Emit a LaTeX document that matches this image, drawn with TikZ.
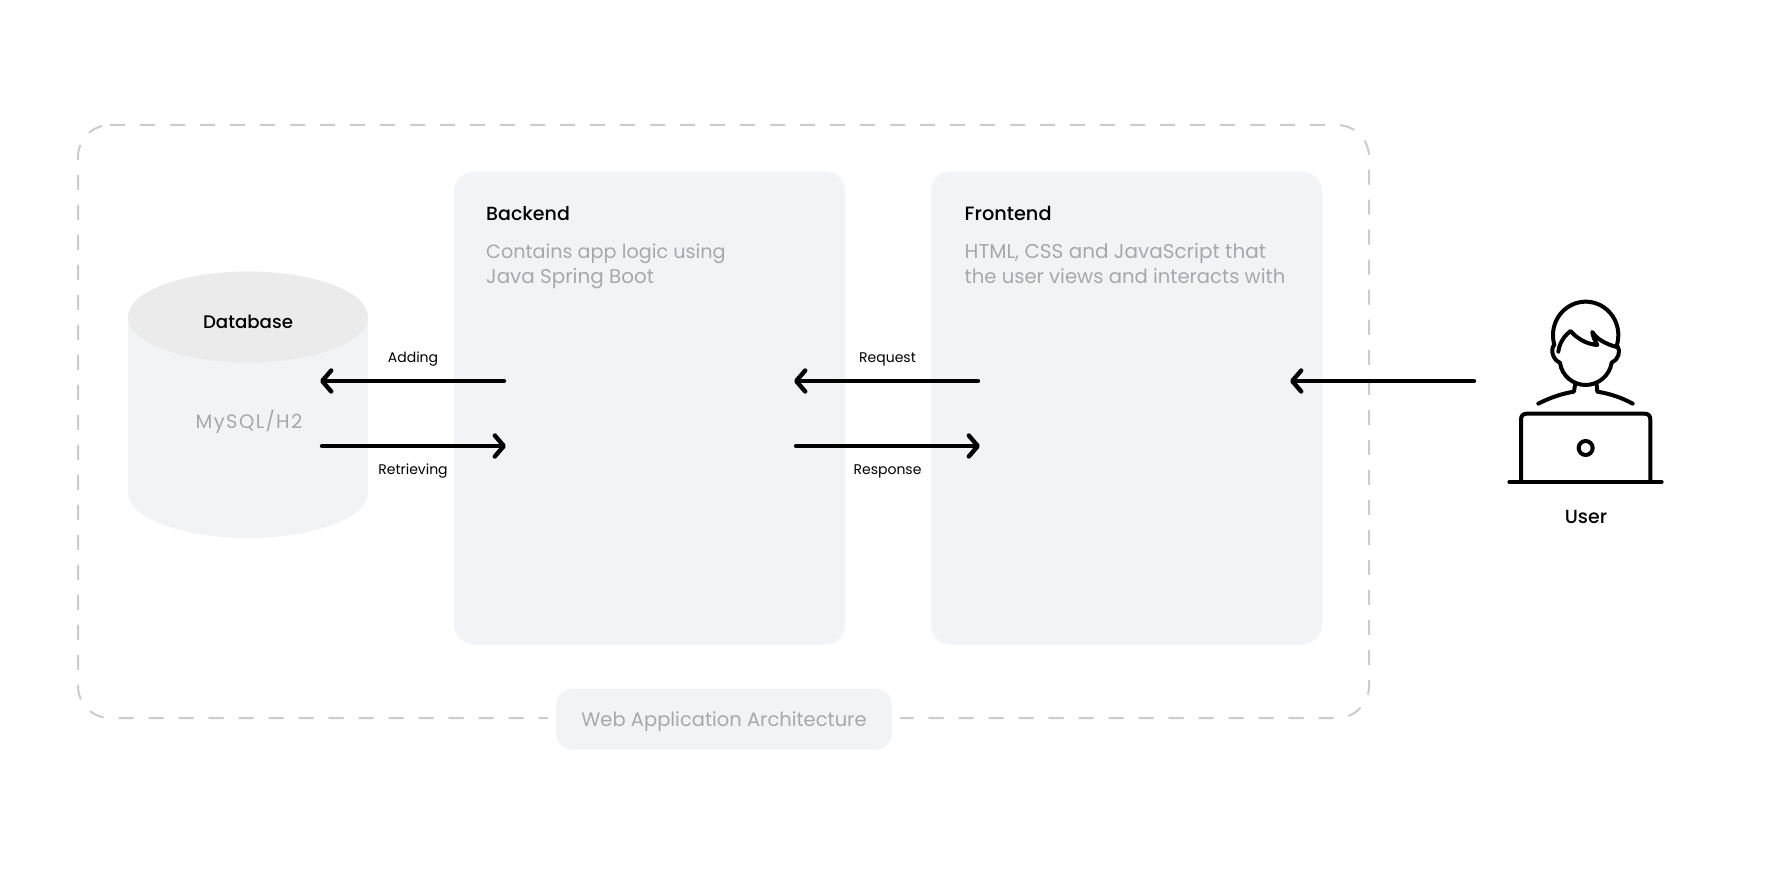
\documentclass[tikz,border=0pt]{standalone}
\usepackage{fontspec}
\setmainfont{Poppins}
\newfontfamily\medfont{Poppins Medium}
\usetikzlibrary{arrows.meta,shapes.geometric}
\definecolor{panel}{HTML}{F2F3F5}
\definecolor{captop}{HTML}{EBEBEB}
\definecolor{mute}{HTML}{A6A8AB}
\definecolor{dashc}{HTML}{CCCCCC}
\newcommand{\fs}[1]{\fontsize{#1}{#1}\selectfont}
\newcommand{\spc}[1]{\addfontfeature{LetterSpace=#1}}
\tikzset{
  panelbox/.style={fill=panel,rounded corners=20pt,inner sep=0pt,outer sep=0pt},
  head/.style={inner sep=0pt,text=black,font=\medfont\fs{19}},
  mutetext/.style={inner sep=0pt,text=mute,font=\fs{19.5}},
  small/.style={inner sep=0pt,text=black,font=\fs{14}},
  link/.style={line width=4.4pt,line cap=round,-{Straight Barb[round,length=9pt,width=21pt,line width=4.4pt]}},
  icon/.style={line width=4pt,line cap=round,line join=round}
}
\begin{document}
\begin{tikzpicture}[x=1pt,y=-1pt]
\useasboundingbox (0,0) rectangle (1774,872);
\fill[white] (0,0) rectangle (1774,872);
% outer dashed frame
\draw[dashc,line width=2pt,dash pattern=on 15pt off 15pt,rounded corners=32pt]
  (110,125) -- (1369,125) -- (1369,718) -- (78,718) -- (78,125) -- (110,125);
% panels
\node[panelbox,minimum width=391pt,minimum height=473pt] (backend) at (649.5,408) {};
\node[panelbox,minimum width=391pt,minimum height=473pt] (frontend) at (1126.5,408) {};
\node[panelbox,draw=white,line width=8pt,minimum width=344pt,minimum height=69pt] (pill) at (724,719) {};
\node[mutetext,anchor=base] (archlabel) at (724,726) {Web Application Architecture};
% cylinder
\fill[panel] (248,492.5) ellipse [x radius=120pt,y radius=45.5pt];
\fill[panel] (128,317) rectangle (368,490);
\fill[captop] (248,317) ellipse [x radius=120pt,y radius=45.5pt];
\node[head,anchor=base,font=\medfont\fs{18.2}] (db) at (248,328) {Database};
\node[mutetext,anchor=base,font=\fs{19.5}\spc{7}] (mysql) at (249,428) {MySQL/H2};
% panel text
\node[head,anchor=base west] (bt) at (486,220) {Backend};
\node[mutetext,anchor=base west,font=\fs{19.2}] (bd1) at (486,258) {Contains app logic using};
\node[mutetext,anchor=base west,font=\fs{19.9}] (bd2) at (486,283) {Java Spring Boot};
\node[head,anchor=base west,font=\medfont\fs{19.3}] (ft) at (964.5,220) {Frontend};
\node[mutetext,anchor=base west,font=\fs{20}] (fd1) at (964.5,258) {HTML, CSS and JavaScript that};
\node[mutetext,anchor=base west,font=\fs{19.6}] (fd2) at (964.5,283) {the user views and interacts with};
% connector ends
\coordinate (dbA) at (320,381);
\coordinate (beA) at (504,381);
\coordinate (dbR) at (322,446);
\coordinate (beR) at (506,446);
\coordinate (beQ) at (794,381);
\coordinate (feQ) at (978,381);
\coordinate (beS) at (796,446);
\coordinate (feS) at (980,446);
\coordinate (feU) at (1290,381);
\coordinate (userU) at (1474,381);
\draw[link] (beA) -- (dbA);
\draw[link] (dbR) -- (beR);
\draw[link] (feQ) -- (beQ);
\draw[link] (beS) -- (feS);
\draw[link] (userU) -- (feU);
\node[small,anchor=base] (l1) at (413,362) {Adding};
\node[small,anchor=base] (l2) at (413,474) {Retrieving};
\node[small,anchor=base] (l3) at (887.5,362) {Request};
\node[small,anchor=base] (l4) at (887.5,474) {Response};
% user icon
\begin{scope}[shift={(1400,261)},x=0.3333pt,y=-0.3333pt,yscale=1]
\draw[icon] (463,252) .. controls (460,242) and (459,232) .. (459,222) .. controls (459,167) and (503,122) .. (557,122) .. controls (611,122) and (655,167) .. (655,222) .. controls (655,232) and (654,242) .. (651,252);
\draw[icon] (462,252) .. controls (450,268) and (460,298) .. (480,305) .. controls (485,345) and (520,372) .. (557,372) .. controls (594,372) and (629,345) .. (635,305) .. controls (654,298) and (664,270) .. (652,255);
\draw[icon] (475,272) .. controls (478,245) and (495,222) .. (512,210) .. controls (530,232) and (560,250) .. (592,252) .. controls (585,240) and (578,225) .. (577,213) .. controls (590,235) and (620,250) .. (650,258);
\draw[icon] (525,372) -- (522,392) .. controls (485,398) and (450,410) .. (415,428);
\draw[icon] (590,372) -- (592,392) .. controls (630,398) and (665,410) .. (698,428);
\draw[icon] (363,660) -- (363,476) .. controls (363,464) and (369,458) .. (381,458) -- (733,458) .. controls (745,458) and (751,464) .. (751,476) -- (751,660);
\draw[icon] (328,663) -- (785,663);
\draw[line width=4pt] (557,561) circle [radius=7pt];
\end{scope}
\node[head,anchor=base,font=\medfont\fs{19}] (userlabel) at (1586,523) {User};
\end{tikzpicture}
\end{document}
